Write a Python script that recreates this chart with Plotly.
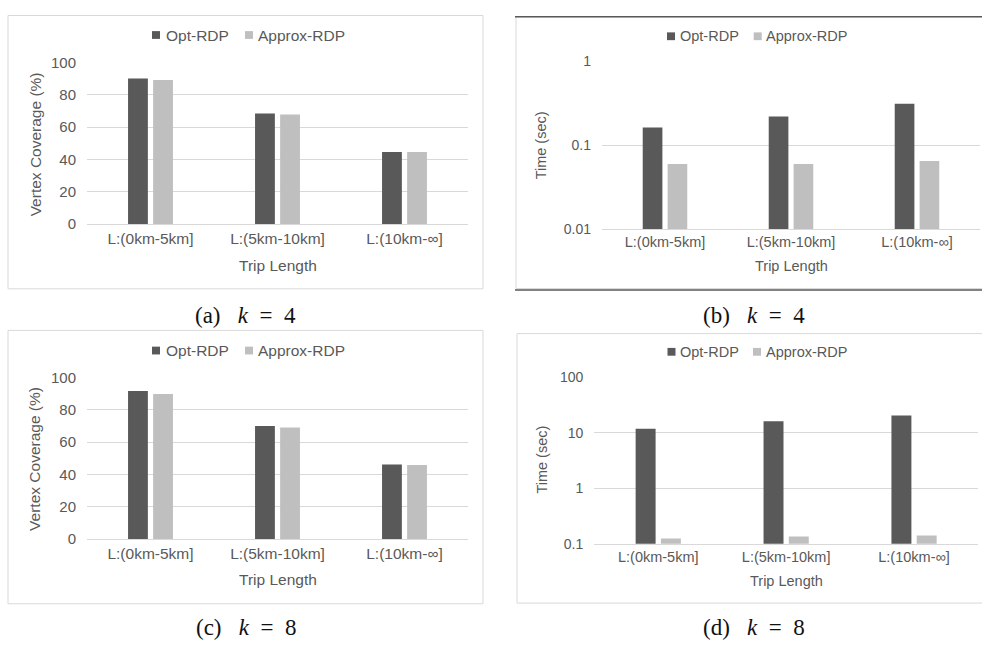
import plotly.graph_objects as go

# ---- data -------------------------------------------------------------
categories = ["L:(0km-5km]", "L:(5km-10km]", "L:(10km-∞]"]
series_names = ["Opt-RDP", "Approx-RDP"]

coverage_k4_opt = [90.2, 68.5, 44.6]
coverage_k4_approx = [89.2, 67.9, 44.6]
time_k4_opt = [0.163, 0.221, 0.314]
time_k4_approx = [0.060, 0.060, 0.065]

coverage_k8_opt = [91.6, 69.9, 46.1]
coverage_k8_approx = [89.8, 69.0, 45.8]
time_k8_opt = [11.9, 16.2, 20.6]
time_k8_approx = [0.124, 0.134, 0.140]

coverage_ticks = [0, 20, 40, 60, 80, 100]
time_k4_ticks = [0.01, 0.1, 1]
time_k4_ticktext = ["0.01", "0.1", "1"]
time_k8_ticks = [0.1, 1, 10, 100]
time_k8_ticktext = ["0.1", "1", "10", "100"]

captions = ["(a)", "(b)", "(c)", "(d)"]
k_values = [4, 4, 8, 8]

# ---- styling ----------------------------------------------------------
W, H = 982, 651
DARK = "#595959"
LIGHT = "#bfbfbf"
GRID = "#d9d9d9"
TEXT = "#595959"
SANS = "Liberation Sans, Arial, sans-serif"
SERIF = "Liberation Serif, Times New Roman, serif"
colors = [DARK, LIGHT]


def fx(p):
    return p / W


def fy(p):
    return 1 - p / H


panels = [
    dict(
        ax="", plot=(87, 468, 55, 221), box=(8, 483, 6.7, 287.3),
        values=(coverage_k4_opt, coverage_k4_approx), log=False,
        ticks=coverage_ticks, ticktext=[str(t) for t in coverage_ticks],
        yrange=[0, 100], ytitle="Vertex Coverage (%)", ytitle_pos=(35, 139),
        legend_y=26.7, legend_sq=(156, 249), legend_txt=(163.5, 256),
        font=15.5, tickfont=15, xtitle_y=263, caption_pos=(246, 315),
    ),
    dict(
        ax="2", plot=(602, 980, 54, 226), box=(516, 995, 8, 287),
        values=(time_k4_opt, time_k4_approx), log=True,
        ticks=time_k4_ticks, ticktext=time_k4_ticktext,
        yrange=[-2, 0], ytitle="Time (sec)", ytitle_pos=(541, 140),
        legend_y=28, legend_sq=(671, 757.7), legend_txt=(677.7, 764),
        font=14.5, tickfont=14, xtitle_y=263.5, caption_pos=(754, 315),
    ),
    dict(
        ax="3", plot=(87, 468, 378.3, 544.3), box=(8, 483, 330, 610.7),
        values=(coverage_k8_opt, coverage_k8_approx), log=False,
        ticks=coverage_ticks, ticktext=[str(t) for t in coverage_ticks],
        yrange=[0, 100], ytitle="Vertex Coverage (%)", ytitle_pos=(35, 462),
        legend_y=350.7, legend_sq=(156, 249), legend_txt=(163.5, 256),
        font=15.5, tickfont=15, xtitle_y=586, caption_pos=(246, 635),
    ),
    dict(
        ax="4", plot=(594.3, 978, 378.3, 549), box=(517, 995, 333.3, 610),
        values=(time_k8_opt, time_k8_approx), log=True,
        ticks=time_k8_ticks, ticktext=time_k8_ticktext,
        yrange=[-1, 2], ytitle="Time (sec)", ytitle_pos=(541.7, 463),
        legend_y=352, legend_sq=(671.5, 757), legend_txt=(678, 764),
        font=14.5, tickfont=14, xtitle_y=587, caption_pos=(754, 635),
    ),
]

fig = go.Figure()
shapes = []
annotations = []
layout = {}

for i, p in enumerate(panels):
    xa, ya = "x" + p["ax"], "y" + p["ax"]
    x0, x1, y0, y1 = p["plot"]

    # frame around each chart
    bx0, bx1, by0, by1 = p["box"]
    shapes.append(dict(type="rect", xref="paper", yref="paper",
                       x0=fx(bx0), x1=fx(bx1), y0=fy(by1), y1=fy(by0),
                       line=dict(color=GRID, width=1), layer="below"))

    for name, vals, col in zip(series_names, p["values"], colors):
        fig.add_trace(go.Bar(
            x=categories, y=vals, name=name, marker=dict(color=col, line=dict(width=0)),
            xaxis=xa, yaxis=ya, showlegend=False,
        ))

    key = p["ax"]
    layout["xaxis" + key] = dict(
        domain=[fx(x0), fx(x1)], anchor=ya, type="category",
        range=[-0.5, 2.5], showgrid=False, zeroline=False,
        showline=True, linecolor=GRID, linewidth=1, ticks="",
        tickfont=dict(family=SANS, size=p["font"], color=TEXT),
        ticklabelstandoff=0,
    )
    yaxis = dict(
        domain=[fy(y1), fy(y0)], anchor=xa, range=p["yrange"],
        tickvals=p["ticks"], ticktext=p["ticktext"],
        showgrid=True, gridcolor=GRID, gridwidth=1, zeroline=False,
        showline=False, ticks="", ticklabelstandoff=10,
        tickfont=dict(family=SANS, size=p["tickfont"], color=TEXT),
    )
    if p["log"]:
        yaxis["type"] = "log"
    layout["yaxis" + key] = yaxis

    # axis titles
    annotations.append(dict(
        text="Trip Length", xref="paper", yref="paper",
        x=fx((x0 + x1) / 2), y=fy(p["xtitle_y"]), xanchor="center", yanchor="middle",
        showarrow=False, font=dict(family=SANS, size=p["font"], color=TEXT)))
    tx, ty = p["ytitle_pos"]
    annotations.append(dict(
        text=p["ytitle"], xref="paper", yref="paper", textangle=-90,
        x=fx(tx), y=fy(ty), xanchor="center", yanchor="middle",
        showarrow=False, font=dict(family=SANS, size=p["font"], color=TEXT)))

    # legend row
    for name, col, sq, tx0 in zip(series_names, colors, p["legend_sq"], p["legend_txt"]):
        shapes.append(dict(type="rect", xref="paper", yref="paper",
                           x0=fx(sq - 4), x1=fx(sq + 4),
                           y0=fy(p["legend_y"] + 4), y1=fy(p["legend_y"] - 4),
                           fillcolor=col, line=dict(width=0)))
        annotations.append(dict(
            text=name, xref="paper", yref="paper", x=fx(tx0), y=fy(p["legend_y"]),
            xanchor="left", yanchor="middle", showarrow=False,
            font=dict(family=SANS, size=p["font"], color=TEXT)))

    # caption under each chart
    cx, cy = p["caption_pos"]
    annotations.append(dict(
        text=f"{captions[i]}&nbsp;&nbsp;&nbsp;<i>k</i>&nbsp;&nbsp;=&nbsp;&nbsp;{k_values[i]}",
        xref="paper", yref="paper", x=fx(cx), y=fy(cy),
        xanchor="center", yanchor="middle", showarrow=False,
        font=dict(family=SERIF, size=23, color="#111111")))

# darker rules above and below the top-right chart
for yy in (8, 288.5):
    shapes.append(dict(type="line", xref="paper", yref="paper",
                       x0=fx(515), x1=fx(995), y0=fy(yy), y1=fy(yy),
                       line=dict(color=DARK, width=1.5)))

fig.update_layout(
    width=W, height=H, margin=dict(l=0, r=0, t=0, b=0),
    paper_bgcolor="white", plot_bgcolor="white",
    barmode="group", bargap=0.605, bargroupgap=0.21,
    showlegend=False, shapes=shapes, annotations=annotations,
    **layout,
)

fig.write_html("out.html")
